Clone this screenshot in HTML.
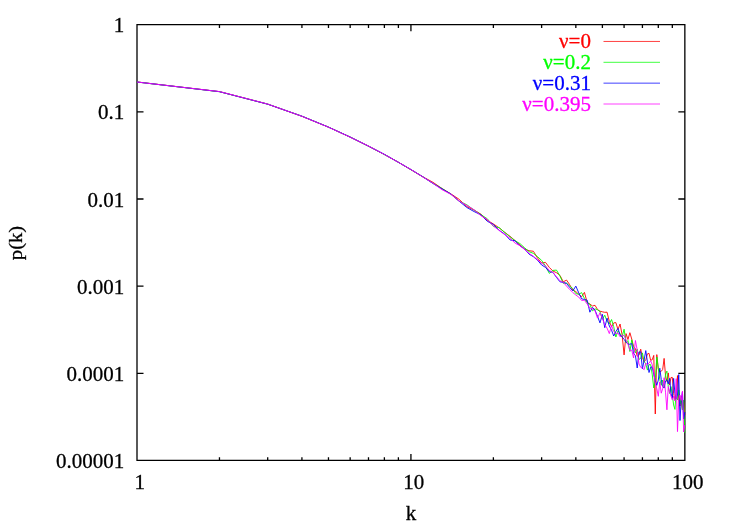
<!DOCTYPE html>
<html><head><meta charset="utf-8"><title>p(k)</title>
<style>html,body{margin:0;padding:0;background:#fff;}body{width:747px;height:523px;position:relative;overflow:hidden;font-family:"Liberation Serif",serif;}</style>
</head><body>
<svg width="747" height="523" viewBox="0 0 747 523" style="position:absolute;left:0;top:0;will-change:transform">
<path fill="none" stroke="#000" stroke-width="1.3" d="M137.00,24.70 H684.85 V460.45 H137.00 Z M137.00,24.70 h6.5 M684.85,24.70 h-6.5 M137.00,111.85 h6.5 M684.85,111.85 h-6.5 M137.00,199.00 h6.5 M684.85,199.00 h-6.5 M137.00,286.15 h6.5 M684.85,286.15 h-6.5 M137.00,373.30 h6.5 M684.85,373.30 h-6.5 M137.00,460.45 h6.5 M684.85,460.45 h-6.5 M137.00,460.45 v-6.50 M137.00,24.70 v6.50 M219.46,460.45 v-3.25 M219.46,24.70 v3.25 M267.70,460.45 v-3.25 M267.70,24.70 v3.25 M301.92,460.45 v-3.25 M301.92,24.70 v3.25 M328.47,460.45 v-3.25 M328.47,24.70 v3.25 M350.16,460.45 v-3.25 M350.16,24.70 v3.25 M368.49,460.45 v-3.25 M368.49,24.70 v3.25 M384.38,460.45 v-3.25 M384.38,24.70 v3.25 M398.39,460.45 v-3.25 M398.39,24.70 v3.25 M410.93,460.45 v-6.50 M410.93,24.70 v6.50 M493.38,460.45 v-3.25 M493.38,24.70 v3.25 M541.62,460.45 v-3.25 M541.62,24.70 v3.25 M575.84,460.45 v-3.25 M575.84,24.70 v3.25 M602.39,460.45 v-3.25 M602.39,24.70 v3.25 M624.08,460.45 v-3.25 M624.08,24.70 v3.25 M642.42,460.45 v-3.25 M642.42,24.70 v3.25 M658.30,460.45 v-3.25 M658.30,24.70 v3.25 M672.32,460.45 v-3.25 M672.32,24.70 v3.25 M684.85,460.45 v-6.50 M684.85,24.70 v6.50"/>
<g fill="none" stroke-width="0.9" stroke-linejoin="round">
<path stroke="#ff0000" d="M137.00,81.93 L219.46,91.62 L267.70,104.13 L301.92,116.32 L328.47,127.11 L350.16,137.08 L368.49,146.19 L384.38,154.48 L398.39,162.25 L410.93,169.71 L422.26,176.54 L432.61,182.07 L442.14,188.54 L450.95,193.91 L459.16,199.35 L466.84,206.58 L474.05,210.07 L480.85,214.12 L487.28,220.28 L493.38,223.95 L499.19,227.87 L504.72,232.36 L510.01,236.30 L515.07,240.61 L519.93,245.00 L524.60,248.97 L529.09,250.73 L533.41,251.29 L537.59,258.05 L541.62,263.00 L545.52,262.40 L549.30,267.40 L552.96,271.10 L556.51,272.70 L559.96,275.40 L563.31,281.80 L566.57,280.10 L569.74,284.80 L572.83,290.20 L575.84,291.60 L578.78,294.30 L581.65,296.70 L584.45,292.40 L587.18,302.60 L589.86,304.00 L592.47,306.00 L595.03,305.30 L597.53,309.50 L599.99,311.20 L602.39,311.80 L604.75,312.30 L607.06,312.20 L609.32,321.50 L611.55,326.70 L613.73,322.90 L615.87,322.60 L617.98,329.50 L620.05,324.00 L622.08,334.60 L624.08,354.90 L626.05,333.60 L627.98,339.50 L629.88,332.70 L631.76,339.10 L633.60,346.60 L635.42,348.70 L637.21,356.30 L638.97,355.00 L640.71,349.20 L642.42,357.70 L644.11,361.80 L645.77,359.80 L647.41,353.90 L649.03,353.30 L650.63,360.30 L652.20,359.80 L653.76,355.40 L655.29,414.00 L656.81,354.60 L658.30,368.70 L659.78,372.00 L661.24,371.30 L662.68,369.50 L664.11,358.40 L665.52,375.60 L666.91,381.50 L668.28,372.90 L669.64,385.00 L670.99,377.50 L672.32,377.40 L673.63,393.50 L674.93,400.00 L676.22,395.00 L677.49,375.60 L678.75,400.00 L679.99,406.00 L681.23,398.00 L682.45,410.00 L683.65,402.00 L684.85,415.00"/>
<path stroke="#00ff00" d="M137.00,82.00 L219.46,91.68 L267.70,104.05 L301.92,116.16 L328.47,127.14 L350.16,137.13 L368.49,146.05 L384.38,154.63 L398.39,162.23 L410.93,169.65 L422.26,176.41 L432.61,183.01 L442.14,188.60 L450.95,194.27 L459.16,201.17 L466.84,204.78 L474.05,210.06 L480.85,214.59 L487.28,218.76 L493.38,226.36 L499.19,227.68 L504.72,232.46 L510.01,236.80 L515.07,240.77 L519.93,243.57 L524.60,247.76 L529.09,251.68 L533.41,253.39 L537.59,256.70 L541.62,260.40 L545.52,266.00 L549.30,273.40 L552.96,270.40 L556.51,270.10 L559.96,276.10 L563.31,283.40 L566.57,283.10 L569.74,286.10 L572.83,288.60 L575.84,293.60 L578.78,294.30 L581.65,292.60 L584.45,298.50 L587.18,302.60 L589.86,304.30 L592.47,310.80 L595.03,308.80 L597.53,309.80 L599.99,311.50 L602.39,319.20 L604.75,315.20 L607.06,321.20 L609.32,324.00 L611.55,319.50 L613.73,326.70 L615.87,337.00 L617.98,330.80 L620.05,333.60 L622.08,337.00 L624.08,329.20 L626.05,343.00 L627.98,340.50 L629.88,351.50 L631.76,339.80 L633.60,349.40 L635.42,352.80 L637.21,349.10 L638.97,359.40 L640.71,358.40 L642.42,352.90 L644.11,361.50 L645.77,363.90 L647.41,370.10 L649.03,364.60 L650.63,364.60 L652.20,374.20 L653.76,388.00 L655.29,379.80 L656.81,357.00 L658.30,368.90 L659.78,379.40 L661.24,385.30 L662.68,380.00 L664.11,388.00 L665.52,374.00 L666.91,371.10 L668.28,386.60 L669.64,393.50 L670.99,386.60 L672.32,395.00 L673.63,405.00 L674.93,409.40 L676.22,392.00 L677.49,400.00 L678.75,390.00 L679.99,404.00 L681.23,396.00 L682.45,410.00 L683.65,400.00 L684.85,432.70"/>
<path stroke="#0000ff" d="M137.00,82.01 L219.46,91.68 L267.70,104.19 L301.92,116.19 L328.47,127.12 L350.16,137.03 L368.49,146.15 L384.38,154.31 L398.39,162.31 L410.93,169.52 L422.26,176.45 L432.61,183.26 L442.14,189.00 L450.95,194.06 L459.16,201.19 L466.84,207.51 L474.05,211.56 L480.85,214.80 L487.28,221.27 L493.38,224.38 L499.19,230.38 L504.72,234.06 L510.01,239.96 L515.07,240.77 L519.93,245.80 L524.60,248.99 L529.09,254.16 L533.41,256.69 L537.59,260.25 L541.62,265.00 L545.52,267.40 L549.30,271.70 L552.96,272.40 L556.51,277.40 L559.96,281.80 L563.31,282.40 L566.57,283.40 L569.74,287.50 L572.83,290.90 L575.84,286.10 L578.78,292.90 L581.65,298.80 L584.45,299.50 L587.18,300.20 L589.86,312.20 L592.47,307.40 L595.03,310.20 L597.53,316.30 L599.99,322.90 L602.39,314.30 L604.75,327.70 L607.06,318.10 L609.32,326.00 L611.55,330.20 L613.73,336.00 L615.87,331.50 L617.98,328.40 L620.05,335.00 L622.08,336.90 L624.08,339.30 L626.05,342.20 L627.98,344.20 L629.88,344.20 L631.76,343.60 L633.60,353.50 L635.42,355.60 L637.21,368.00 L638.97,352.00 L640.71,351.80 L642.42,369.00 L644.11,360.00 L645.77,350.60 L647.41,362.00 L649.03,372.50 L650.63,367.30 L652.20,366.90 L653.76,374.20 L655.29,380.80 L656.81,385.30 L658.30,380.10 L659.78,368.20 L661.24,379.40 L662.68,386.60 L664.11,388.00 L665.52,381.10 L666.91,379.80 L668.28,383.90 L669.64,378.40 L670.99,393.50 L672.32,398.30 L673.63,378.40 L674.93,393.50 L676.22,399.00 L677.49,395.00 L678.75,374.60 L679.99,420.50 L681.23,400.00 L682.45,392.00 L683.65,419.00 L684.85,412.00"/>
<path stroke="#ff00ff" d="M137.00,82.03 L219.46,91.55 L267.70,104.04 L301.92,116.25 L328.47,127.21 L350.16,137.19 L368.49,145.96 L384.38,154.51 L398.39,162.31 L410.93,169.50 L422.26,176.55 L432.61,182.98 L442.14,189.78 L450.95,194.37 L459.16,201.09 L466.84,205.35 L474.05,209.79 L480.85,215.69 L487.28,219.43 L493.38,226.06 L499.19,230.45 L504.72,234.66 L510.01,238.20 L515.07,243.12 L519.93,245.67 L524.60,249.47 L529.09,253.32 L533.41,256.29 L537.59,259.85 L541.62,263.00 L545.52,266.00 L549.30,270.40 L552.96,272.70 L556.51,276.70 L559.96,280.80 L563.31,282.40 L566.57,286.10 L569.74,289.50 L572.83,292.60 L575.84,295.00 L578.78,297.10 L581.65,300.50 L584.45,300.20 L587.18,304.00 L589.86,308.10 L592.47,308.80 L595.03,310.80 L597.53,318.10 L599.99,312.80 L602.39,318.50 L604.75,324.60 L607.06,328.10 L609.32,333.60 L611.55,325.30 L613.73,331.50 L615.87,333.60 L617.98,332.90 L620.05,336.80 L622.08,335.40 L624.08,335.50 L626.05,339.80 L627.98,344.20 L629.88,350.40 L631.76,350.10 L633.60,358.00 L635.42,340.50 L637.21,350.00 L638.97,364.00 L640.71,367.30 L642.42,368.00 L644.11,369.70 L645.77,363.20 L647.41,364.60 L649.03,363.20 L650.63,360.80 L652.20,364.60 L653.76,372.00 L655.29,384.00 L656.81,388.70 L658.30,396.30 L659.78,382.00 L661.24,393.20 L662.68,388.70 L664.11,377.70 L665.52,392.20 L666.91,409.80 L668.28,386.60 L669.64,392.00 L670.99,396.00 L672.32,400.00 L673.63,396.00 L674.93,401.00 L676.22,378.70 L677.49,431.60 L678.75,400.00 L679.99,395.00 L681.23,400.40 L682.45,391.10 L683.65,432.00 L684.85,425.00"/>
<path stroke="#ff0000" stroke-width="0.75" d="M603.5,41.45 L660,41.45"/>
<path stroke="#00ff00" stroke-width="0.75" d="M603.5,62.30 L660,62.30"/>
<path stroke="#0000ff" stroke-width="0.75" d="M603.5,83.15 L660,83.15"/>
<path stroke="#ff00ff" stroke-width="0.75" d="M603.5,104.00 L660,104.00"/>
</g>
<g font-family="Liberation Serif, serif" font-size="21px" fill="#000" stroke="#000" stroke-width="0.3">
<text transform="translate(124.30,32.25) scale(1,1.040)" text-anchor="end">1</text>
<text transform="translate(124.30,119.40) scale(1,1.040)" text-anchor="end">0.1</text>
<text transform="translate(124.30,206.55) scale(1,1.040)" text-anchor="end">0.01</text>
<text transform="translate(124.30,293.70) scale(1,1.040)" text-anchor="end">0.001</text>
<text transform="translate(124.30,380.85) scale(1,1.040)" text-anchor="end">0.0001</text>
<text transform="translate(124.30,468.00) scale(1,1.040)" text-anchor="end">0.00001</text>
<text transform="translate(139.80,488.60) scale(1,1.040)" text-anchor="middle">1</text>
<text transform="translate(413.73,488.60) scale(1,1.040)" text-anchor="middle">10</text>
<text transform="translate(687.65,488.60) scale(1,1.040)" text-anchor="middle">100</text>
<text transform="translate(411.00,519.50) scale(1,1.040)" text-anchor="middle">k</text>
<text transform="translate(21.5,243.0) rotate(-90) scale(1,0.95)" text-anchor="middle" font-size="20.6px">p(k)</text>
<text transform="translate(590.90,48.00) scale(1,1.040)" text-anchor="end" fill="#ff0000" stroke="#ff0000">ν=0</text>
<text transform="translate(590.90,68.85) scale(1,1.040)" text-anchor="end" fill="#00ff00" stroke="#00ff00">ν=0.2</text>
<text transform="translate(590.90,89.70) scale(1,1.040)" text-anchor="end" fill="#0000ff" stroke="#0000ff">ν=0.31</text>
<text transform="translate(590.90,110.55) scale(1,1.040)" text-anchor="end" fill="#ff00ff" stroke="#ff00ff">ν=0.395</text>
</g>
</svg>
</body></html>
